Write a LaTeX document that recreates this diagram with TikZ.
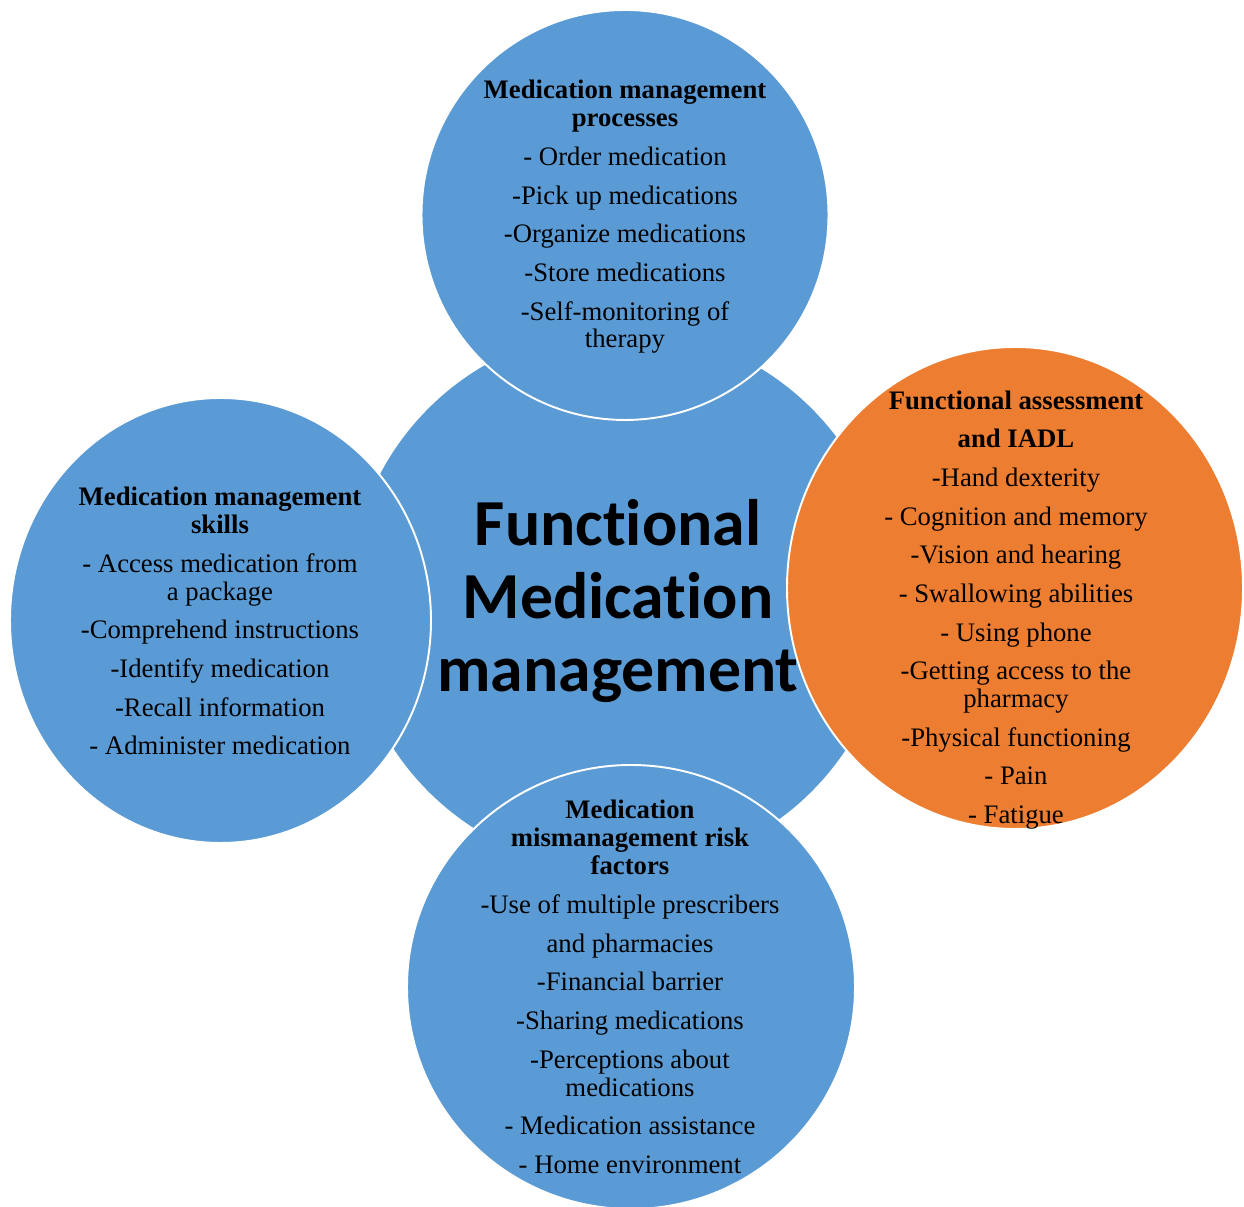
\documentclass[tikz,border=0pt]{standalone}
\usepackage{fontspec}
\setmainfont{Liberation Serif}
\newfontfamily\hubfont[Ligatures=NoCommon]{Carlito}
\usepackage{tikz}
\usetikzlibrary{shapes.geometric}
\definecolor{VennBlue}{HTML}{5B9BD5}
\definecolor{VennOrange}{HTML}{ED7D31}
\newcommand{\gap}{6.1pt}

\tikzset{
  bubble/.style={ellipse,draw=white,line width=1.1pt,fill=VennBlue,inner sep=0pt},
  bubbletext/.style={align=center,font=\fontsize{15.2pt}{15.9pt}\selectfont},
  hubtext/.style={align=center,font=\hubfont\bfseries\fontsize{37.4pt}{41.7pt}\selectfont}
}

\begin{document}
\begin{tikzpicture}[x=1cm,y=1cm]
\path[use as bounding box,fill=white] (0,0) rectangle (24.88,24.14);
% hub circle first, the four satellites on top of it
\node[bubble,minimum width=10.88cm,minimum height=10.88cm] (hub) at (12.40,12.14) {};
\node[bubble,minimum width=8.14cm,minimum height=8.20cm] (proc) at (12.50,19.84) {};
\node[bubble,minimum width=8.42cm,minimum height=8.90cm] (skill) at (4.41,11.73) {};
\node[bubble,fill=VennOrange,minimum width=9.12cm,minimum height=9.64cm] (func) at (20.30,12.38) {};
\node[bubble,minimum width=8.96cm,minimum height=8.88cm] (risk) at (12.62,4.40) {};

\node[hubtext] (hub text) at (12.36,12.12) {Functional\\Medication\\management};

\node[bubbletext] (proc text) at (12.50,19.80) {%
\textbf{Medication management}\\\textbf{processes}\\[\gap]
- Order medication\\[\gap]
-Pick up medications\\[\gap]
-Organize medications\\[\gap]
-Store medications\\[\gap]
-Self-monitoring of\\therapy};

\node[bubbletext] (skill text) at (4.40,11.72) {%
\textbf{Medication management}\\\textbf{skills}\\[\gap]
- Access medication from\\a package\\[\gap]
-Comprehend instructions\\[\gap]
-Identify medication\\[\gap]
-Recall information\\[\gap]
- Administer medication};

\node[bubbletext] (func text) at (20.32,11.94) {%
\textbf{Functional assessment}\\[\gap]\textbf{and IADL}\\[\gap]
-Hand dexterity\\[\gap]
- Cognition and memory\\[\gap]
-Vision and hearing\\[\gap]
- Swallowing abilities\\[\gap]
- Using phone\\[\gap]
-Getting access to the\\pharmacy\\[\gap]
-Physical functioning\\[\gap]
- Pain\\[\gap]
- Fatigue};

\node[bubbletext] (risk text) at (12.60,4.40) {%
\textbf{Medication}\\\textbf{mismanagement risk}\\\textbf{factors}\\[\gap]
-Use of multiple prescribers\\[\gap]and pharmacies\\[\gap]
-Financial barrier\\[\gap]
-Sharing medications\\[\gap]
-Perceptions about\\medications\\[\gap]
- Medication assistance\\[\gap]
- Home environment};
\end{tikzpicture}
\end{document}
